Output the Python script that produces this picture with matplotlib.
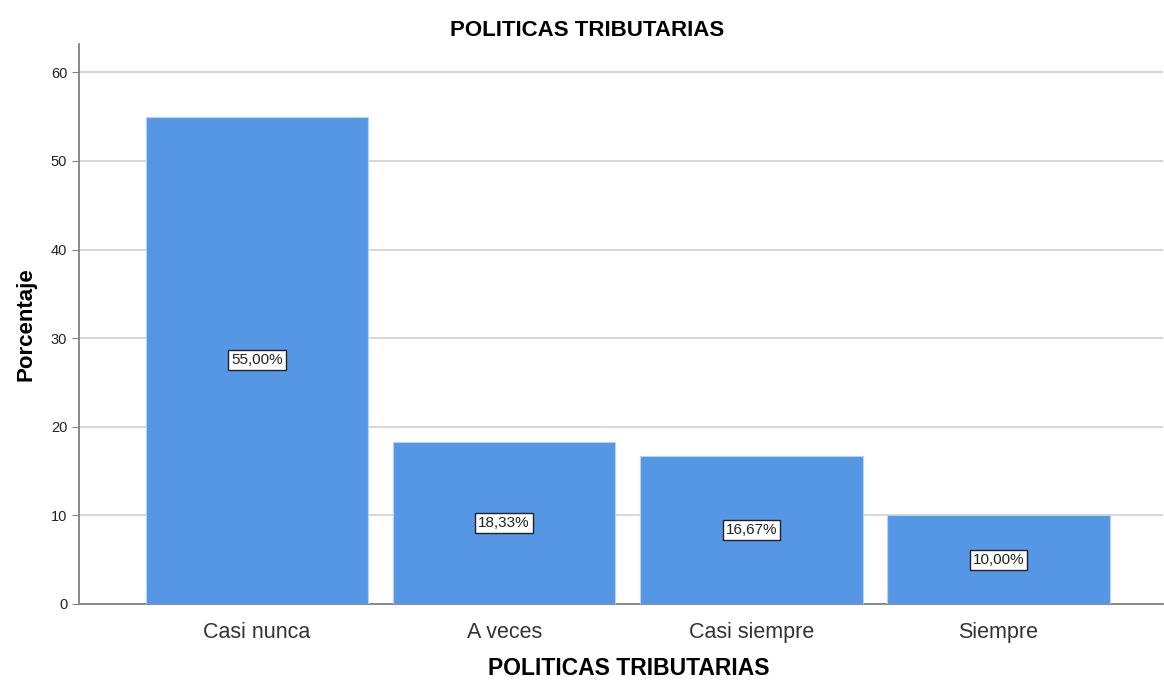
import matplotlib
matplotlib.use("Agg")
import matplotlib.pyplot as plt

# datos
categorias = ["Casi nunca", "A veces", "Casi siempre", "Siempre"]
porcentajes = [55.00, 18.33, 16.67, 10.00]
etiquetas = ["55,00%", "18,33%", "16,67%", "10,00%"]
yticks = [0, 10, 20, 30, 40, 50, 60]

plt.rcParams['font.family'] = ['Liberation Sans', 'DejaVu Sans']

fig = plt.figure(figsize=(11.64, 6.81), dpi=100)
ax = fig.add_axes([0.0679, 0.1131, 0.9311, 0.8223])

x = range(len(categorias))
bars = ax.bar(x, porcentajes, width=0.9, color="#5596E5",
              edgecolor="#B8D2F2", linewidth=0.8, zorder=3)

for b, txt in zip(bars, etiquetas):
    ax.text(b.get_x() + b.get_width() / 2, b.get_height() / 2, txt,
            ha="center", va="center", fontsize=11, color="#222222", zorder=4,
            bbox=dict(boxstyle="square,pad=0.2", fc="white", ec="#222222", lw=1))

ax.set_xlim(-0.72, 3.665)
ax.set_ylim(0, 63.2)
ax.set_yticks(yticks)
ax.set_xticks(list(x))
ax.set_xticklabels(categorias, fontsize=15.5, color="#333333")
ax.tick_params(axis="y", labelsize=10.5, colors="#222222", length=5, color="#808080")
ax.tick_params(axis="x", length=0, pad=13)
ax.yaxis.grid(True, color="#D0D0D0", linewidth=1.2, zorder=0)

for s in ["top", "right"]:
    ax.spines[s].set_visible(False)
for s in ["left", "bottom"]:
    ax.spines[s].set_color("#808080")
    ax.spines[s].set_linewidth(1.3)

ax.set_title("POLITICAS TRIBUTARIAS", fontsize=16, fontweight="bold", x=0.469, pad=6)
ax.set_xlabel("POLITICAS TRIBUTARIAS", fontsize=16.5, fontweight="bold", labelpad=18)
ax.xaxis.set_label_coords(0.507, -0.095)
ax.set_ylabel("Porcentaje", fontsize=16, fontweight="bold", labelpad=10)

fig.savefig("out.png", dpi=100)
